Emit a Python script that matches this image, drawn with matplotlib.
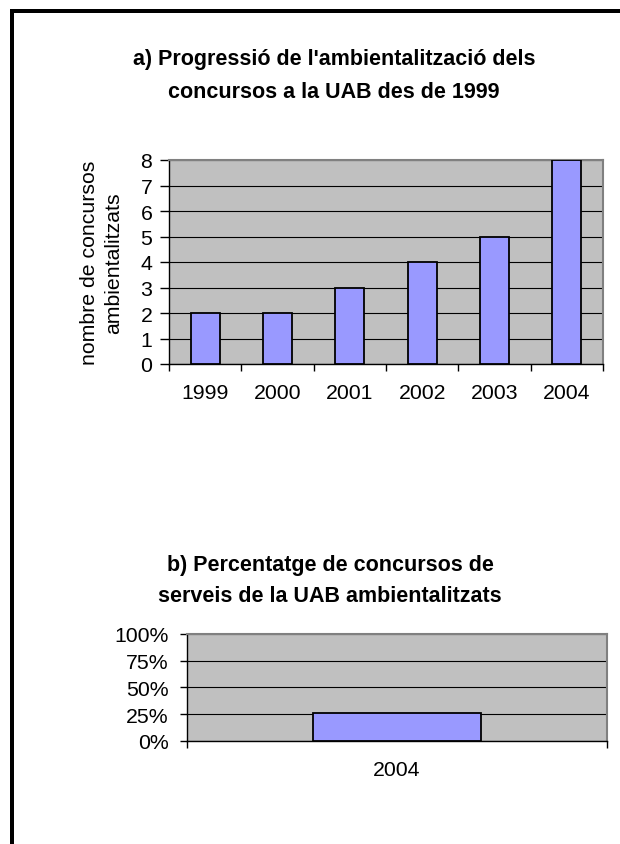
"""
Two Excel-style bar charts: greening of UAB tenders since 1999 (a) and
share of UAB service tenders that were greened in 2004 (b).
"""

import numpy as np
import matplotlib
matplotlib.use("Agg")
import matplotlib.pyplot as plt
from matplotlib.lines import Line2D
from matplotlib.ticker import FixedLocator, PercentFormatter

plt.rcParams["font.family"] = ["Liberation Sans", "DejaVu Sans"]

# ---------------------------------------------------------------------------
# Data
# ---------------------------------------------------------------------------
YEARS_A      = ["1999", "2000", "2001", "2002", "2003", "2004"]
N_CONCURSOS  = [2, 2, 3, 4, 5, 8]

YEARS_B      = ["2004"]
PCT_AMBIENT  = [0.26]

TITLE_A = ["a) Progressió de l'ambientalització dels",
           "concursos a la UAB des de 1999"]
TITLE_B = ["b) Percentatge de concursos de",
           "serveis de la UAB ambientalitzats"]
YLABEL_A = "nombre de concursos\nambientalitzats"

# ---------------------------------------------------------------------------
# Style
# ---------------------------------------------------------------------------
BAR_COLOR  = "#9999ff"
PLOT_BG    = "#c0c0c0"
FRAME_GRAY = "#808080"
FS         = 15.3
FS_TITLE   = 15.5
W, H       = 620, 845


def style_axes(ax, ncat):
    ax.set_facecolor(PLOT_BG)
    ax.set_xlim(-0.5, ncat - 0.5)
    ax.spines["top"].set_color(FRAME_GRAY)
    ax.spines["right"].set_color(FRAME_GRAY)
    ax.spines["top"].set_linewidth(1.5)
    ax.spines["right"].set_linewidth(1.5)
    ax.spines["left"].set_linewidth(1.0)
    ax.spines["bottom"].set_linewidth(1.0)
    ax.grid(axis="y", color="black", lw=0.8, zorder=1)
    ax.set_axisbelow(True)
    # ticks between categories, labels at the centres
    ax.xaxis.set_major_locator(FixedLocator(np.arange(ncat + 1) - 0.5))
    ax.xaxis.set_minor_locator(FixedLocator(np.arange(ncat)))
    ax.tick_params(axis="x", which="major", length=5, width=1,
                   labelbottom=False)
    ax.tick_params(axis="x", which="minor", length=0, pad=14,
                   labelsize=FS)


fig = plt.figure(figsize=(W / 100, H / 100), dpi=100)

# ---------------------------------------------------------------------------
# Chart a
# ---------------------------------------------------------------------------
ax_a = fig.add_axes([169 / W, 1 - 365 / H, (603 - 169) / W, (365 - 161) / H])
xa = np.arange(len(YEARS_A))
ax_a.bar(xa, N_CONCURSOS, width=0.4, color=BAR_COLOR, edgecolor="black",
         lw=1.3, zorder=3)
style_axes(ax_a, len(YEARS_A))
ax_a.set_xticks(xa, YEARS_A, minor=True)
ax_a.set_ylim(0, 8)
ax_a.set_yticks(range(0, 9))
ax_a.tick_params(axis="y", length=6.5, width=1, pad=5.5, labelsize=FS)

for i, line in enumerate(TITLE_A):
    fig.text(334 / W, 1 - (60 + 32 * i) / H, line, ha="center", va="center",
             fontsize=FS_TITLE, fontweight="bold")
fig.text(101.5 / W, 1 - 263 / H, YLABEL_A, rotation=90, ha="center",
         va="center", multialignment="center", linespacing=1.36, fontsize=FS)

# ---------------------------------------------------------------------------
# Chart b
# ---------------------------------------------------------------------------
ax_b = fig.add_axes([187 / W, 1 - 741.7 / H, (607 - 187) / W, (741.7 - 635) / H])
xb = np.arange(len(YEARS_B))
ax_b.bar(xb, PCT_AMBIENT, width=0.4, color=BAR_COLOR, edgecolor="black",
         lw=1.3, zorder=3)
style_axes(ax_b, len(YEARS_B))
ax_b.set_xticks(xb, YEARS_B, minor=True)
ax_b.set_ylim(0, 1)
ax_b.set_yticks([0, 0.25, 0.5, 0.75, 1.0])
ax_b.yaxis.set_major_formatter(PercentFormatter(1.0, decimals=0))
ax_b.tick_params(axis="y", length=5, width=1, pad=8, labelsize=FS)

for i, line in enumerate(TITLE_B):
    fig.text(330 / W, 1 - (566 + 31 * i) / H, line, ha="center", va="center",
             fontsize=FS_TITLE, fontweight="bold")

# ---------------------------------------------------------------------------
# Page frame (left and top edges only)
# ---------------------------------------------------------------------------
lw_frame = 4 * 72 / 100
fig.add_artist(Line2D([12 / W, 1.0], [1 - 12 / H, 1 - 12 / H], color="black",
                      lw=lw_frame, transform=fig.transFigure,
                      solid_capstyle="projecting"))
fig.add_artist(Line2D([12 / W, 12 / W], [1 - 12 / H, 0.0], color="black",
                      lw=lw_frame, transform=fig.transFigure,
                      solid_capstyle="projecting"))

fig.savefig("out.png", dpi=100, facecolor="white")
plt.close(fig)
